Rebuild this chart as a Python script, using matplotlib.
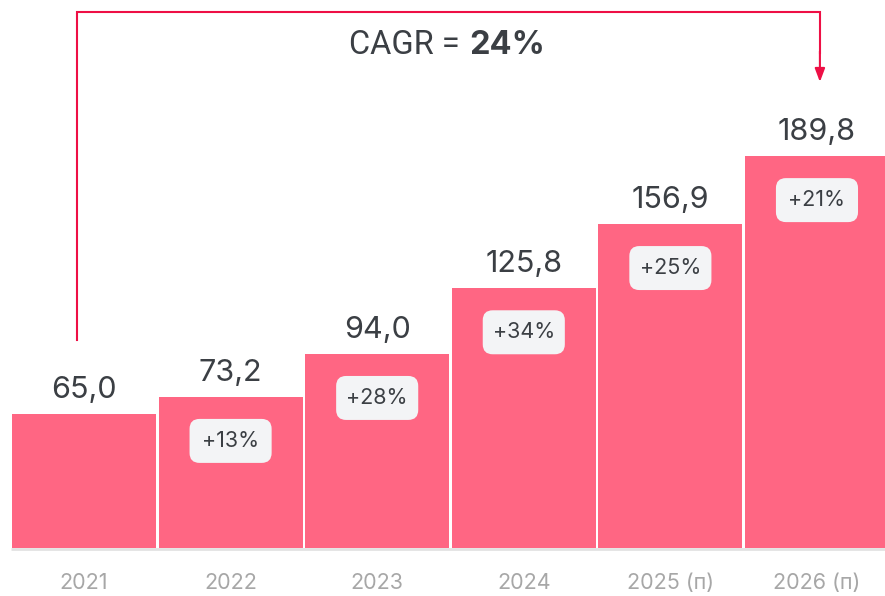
import matplotlib
matplotlib.use("Agg")
import matplotlib.pyplot as plt
from matplotlib.patches import FancyBboxPatch

# data
years = ["2021", "2022", "2023", "2024", "2025 (п)", "2026 (п)"]
values = [65.0, 73.2, 94.0, 125.8, 156.9, 189.8]
growth = [None, "+13%", "+28%", "+34%", "+25%", "+21%"]
cagr = "24%"

bar_color = "#ff6683"
arrow_color = "#ee0f45"
text_color = "#3b3f44"
year_color = "#a7a7a7"

plt.rcParams["font.family"] = ["Inter", "DejaVu Sans"]

fig = plt.figure(figsize=(8.85, 5.96), dpi=100)
ax = fig.add_axes([0, 0, 1, 1])
ax.set_xlim(-0.573, 5.464)
ax.set_ylim(-23.2, 265.4)
ax.axis("off")

x = list(range(len(years)))
ax.bar(x, values, width=0.982, color=bar_color, zorder=2)

# baseline
ax.plot([-0.50, 5.464], [-0.6, -0.6], color="#e2e2e2", lw=2, zorder=1,
        solid_capstyle="butt")

for i, v in enumerate(values):
    ax.annotate(f"{v:.1f}".replace(".", ","), (i, v), xytext=(0, 11.5),
                textcoords="offset points", ha="center", va="baseline",
                fontsize=22, color=text_color)
    ax.text(i, -17, years[i], ha="center", va="center", fontsize=15.5,
            color=year_color)
    if growth[i]:
        w, h = 0.56, 21.3
        cy = v - 21.3
        box = FancyBboxPatch((i - w / 2, cy - h / 2), w, h,
                             boxstyle="round,pad=0,rounding_size=0.068",
                             mutation_aspect=71, facecolor="#f3f4f6",
                             edgecolor="none", zorder=3)
        ax.add_patch(box)
        ax.text(i, cy, growth[i], ha="center", va="center", fontsize=15.5,
                color=text_color, zorder=4)

# CAGR arrow
x0, x1 = -0.048, 5.02
y_top = 259.6
ax.plot([x0, x0, x1, x1], [values[0] + 35.7, y_top, y_top, y_top - 20],
        color=arrow_color, lw=1.5, zorder=2, solid_joinstyle="miter")
ax.annotate("", xy=(x1, values[-1] + 35.9), xytext=(x1, y_top - 19),
            arrowprops=dict(arrowstyle="-|>,head_length=0.8,head_width=0.3",
                            color=arrow_color, lw=1.5, shrinkA=0, shrinkB=0))

ax.text(2.62, 243.6, "CAGR = ", ha="right", va="center", fontsize=23.5,
        color=text_color, family=["Roboto", "DejaVu Sans"])
ax.text(2.63, 243.6, cagr, ha="left", va="center", fontsize=23.5,
        color=text_color, fontweight="bold")

fig.savefig("out.png", dpi=100)
